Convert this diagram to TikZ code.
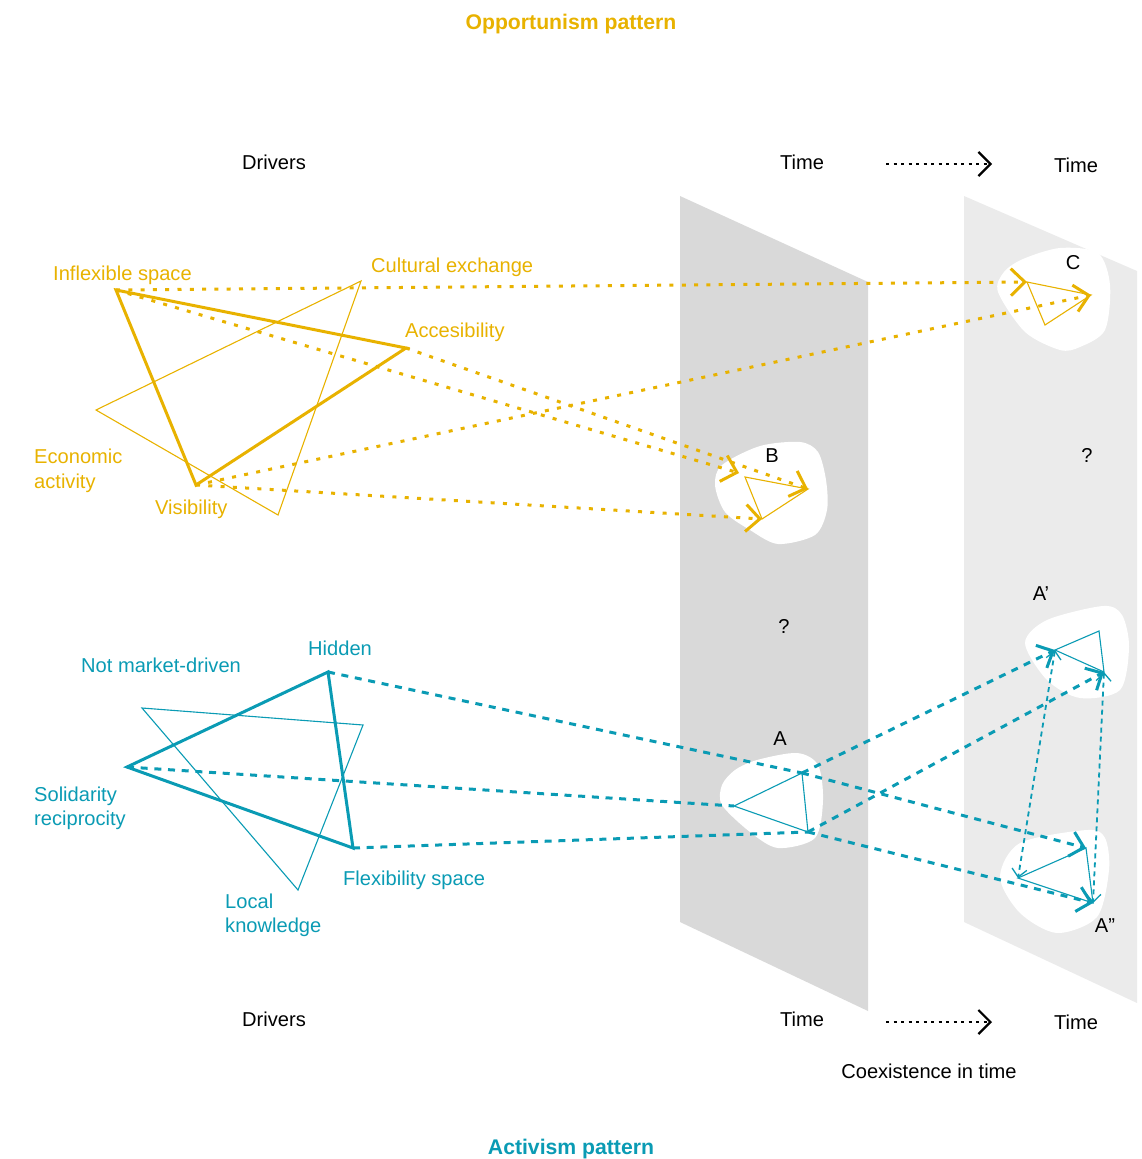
\documentclass[tikz,border=0pt]{standalone}
\usepackage{fontspec}
\setmainfont{Liberation Sans}
\usetikzlibrary{arrows.meta}
\definecolor{ylw}{RGB}{232,178,0}
\definecolor{tl}{RGB}{10,155,180}
\definecolor{planeA}{RGB}{217,217,217}
\definecolor{planeB}{RGB}{235,235,235}
\begin{document}
\begin{tikzpicture}[x=1pt,y=-1pt,
  lbl/.style={font=\fontsize{20.1}{24}\selectfont, inner sep=0pt},
  ttl/.style={font=\fontsize{21.2}{25}\selectfont\bfseries, inner sep=0pt, anchor=base},
  ythick/.style={draw=ylw, line width=3pt, line join=miter},
  ythin/.style={draw=ylw, line width=1.1pt},
  tthick/.style={draw=tl, line width=3pt, line join=miter},
  tthin/.style={draw=tl, line width=1.1pt},
  ydot/.style={draw=ylw, line width=3pt, dash pattern=on 4pt off 8.3pt},
  tdash/.style={draw=tl, line width=3pt, dash pattern=on 7pt off 6.7pt},
  tvdash/.style={draw=tl, line width=1.8pt, dash pattern=on 5pt off 4pt},
  timeln/.style={draw=black, line width=1.1pt, dash pattern=on 3pt off 4.5pt},
  ytip/.style={-{Straight Barb[length=14pt,width=27pt,line width=3pt]}},
  ttip/.style={-{Straight Barb[length=13pt,width=25pt,line width=3pt]}},
  tsmall/.style={{Straight Barb[length=8pt,width=15pt,line width=1.3pt]}-{Straight Barb[length=8pt,width=15pt,line width=1.3pt]}},
  ktip/.style={-{Straight Barb[length=12pt,width=24pt,line width=2.2pt]}},
  blob/.style={fill=white}
]
\useasboundingbox (0,0) rectangle (1141,1159);

% planes
\fill[planeA] (680,196) -- (868,282) -- (868,1011) -- (680,922) -- cycle;
\fill[planeB] (964,196) -- (1137,271) -- (1137,1003) -- (964,922) -- cycle;

% blobs
\fill[blob] plot[smooth cycle] coordinates {(760,446) (800,442) (818,452) (826,480) (827,510) (815,535) (778,544) (750,530) (725,512) (715,485) (722,465)};
\fill[blob] plot[smooth cycle] coordinates {(1023,259) (1060,248) (1098,253) (1110,285) (1105,330) (1080,347) (1060,350) (1025,332) (998,292) (1004,272)};
\fill[blob] plot[smooth cycle] coordinates {(757,760) (797,753) (818,765) (823,800) (815,838) (778,848) (750,832) (722,805) (722,785) (735,770)};
\fill[blob] plot[smooth cycle] coordinates {(1047,620) (1103,606) (1122,615) (1129,647) (1120,690) (1080,698) (1047,680) (1025,643)};
\fill[blob] plot[smooth cycle] coordinates {(1020,843) (1087,830) (1105,838) (1109,870) (1097,917) (1057,933) (1020,913) (1000,877)};

% vertices
\coordinate (yI) at (116,290);
\coordinate (yA) at (406,348);
\coordinate (yV) at (196,485);
\coordinate (yC) at (361,281);
\coordinate (yE) at (96,410);
\coordinate (yT) at (278,515);
\coordinate (B1) at (745,477);
\coordinate (B2) at (808,489);
\coordinate (B3) at (762,519);
\coordinate (Bt1) at (739,473);
\coordinate (C1) at (1027,282);
\coordinate (C2) at (1091,295);
\coordinate (C3) at (1045,325);
\coordinate (tH) at (328,672);
\coordinate (tS) at (127,767);
\coordinate (tF) at (353,848);
\coordinate (tN) at (142,708);
\coordinate (tX) at (363,725);
\coordinate (tL) at (298,890);
\coordinate (A1) at (734,806);
\coordinate (A2) at (802,773);
\coordinate (A3) at (808,832);
\coordinate (P1) at (1055,650);
\coordinate (P2) at (1099,631);
\coordinate (P3) at (1104,672);
\coordinate (Q1) at (1086,848);
\coordinate (Q2) at (1018,878);
\coordinate (Q3) at (1093,903);

% triangles
\draw[ythin] (yC) -- (yE) -- (yT) -- cycle;
\draw[ythick] (yI) -- (yA) -- (yV) -- cycle;
\draw[ythin] (B1) -- (B2) -- (B3) -- cycle;
\draw[ythin] (C1) -- (C2) -- (C3) -- cycle;
\draw[tthin] (tN) -- (tX) -- (tL) -- cycle;
\draw[tthick] (tH) -- (tS) -- (tF) -- cycle;
\draw[tthin] (A1) -- (A2) -- (A3) -- cycle;
\draw[tthin] (P1) -- (P2) -- (P3) -- cycle;
\draw[tthin] (Q1) -- (Q2) -- (Q3) -- cycle;

% yellow connectors
\draw[ydot, ytip] (yI) -- (C1);
\draw[ydot, ytip] (yI) -- (Bt1);
\draw[ydot, ytip] (yA) -- (B2);
\draw[ydot, ytip] (yV) -- (B3);
\draw[ydot, ytip] (yV) -- (C2);

% teal connectors
\draw[tdash] (tH) -- (A2);
\draw[tdash] (tS) -- (A1);
\draw[tdash] (tF) -- (A3);
\draw[tdash, ttip] (A2) -- (P1);
\draw[tdash, ttip] (A3) -- (P3);
\draw[tdash, ttip] (A2) -- (Q1);
\draw[tdash, ttip] (A3) -- (Q3);
\draw[tvdash, tsmall] (P1) -- (Q2);
\draw[tvdash, tsmall] (P3) -- (Q3);

% time arrows
\coordinate (ka1) at (886,164);
\coordinate (ka2) at (992,164);
\coordinate (kb1) at (886,1022);
\coordinate (kb2) at (992,1022);
\draw[timeln, ktip] (ka1) -- (ka2);
\draw[timeln, ktip] (kb1) -- (kb2);

% titles
\node[ttl, text=ylw] (tOpp) at (571,29.5) {Opportunism pattern};
\node[ttl, text=tl] (tAct) at (571,1154) {Activism pattern};

% black labels
\node[lbl, anchor=base] (drv1) at (274,169) {Drivers};
\node[lbl, anchor=base] (tim1) at (802,169) {Time};
\node[lbl, anchor=base] (tim2) at (1076,172) {Time};
\node[lbl, anchor=base] (drv2) at (274,1026) {Drivers};
\node[lbl, anchor=base] (tim3) at (802,1026) {Time};
\node[lbl, anchor=base] (tim4) at (1076,1029) {Time};
\node[lbl, anchor=base] (coex) at (929,1078) {Coexistence in time};
\node[lbl, anchor=base] (lB) at (772,462) {B};
\node[lbl, anchor=base] (lC) at (1073,269) {C};
\node[lbl, anchor=base] (q1) at (1087,462) {?};
\node[lbl, anchor=base] (q2) at (784,633) {?};
\node[lbl, anchor=base] (lA) at (780,745) {A};
\node[lbl, anchor=base] (lAp) at (1041,600) {A’};
\node[lbl, anchor=base] (lApp) at (1105,932) {A”};

% yellow labels
\node[lbl, text=ylw, anchor=base west] (lInf) at (53,280) {Inflexible space};
\node[lbl, text=ylw, anchor=base west] (lCul) at (371,272) {Cultural exchange};
\node[lbl, text=ylw, anchor=base west] (lAcc) at (405,337) {Accesibility};
\node[lbl, text=ylw, anchor=base west] (lEc1) at (34,463) {Economic};
\node[lbl, text=ylw, anchor=base west] (lEc2) at (34,488) {activity};
\node[lbl, text=ylw, anchor=base west] (lVis) at (155,514) {Visibility};

% teal labels
\node[lbl, text=tl, anchor=base west] (lNot) at (81,672) {Not market-driven};
\node[lbl, text=tl, anchor=base west] (lHid) at (308,655) {Hidden};
\node[lbl, text=tl, anchor=base west] (lSo1) at (34,801) {Solidarity};
\node[lbl, text=tl, anchor=base west] (lSo2) at (34,825) {reciprocity};
\node[lbl, text=tl, anchor=base west] (lFle) at (343,885) {Flexibility space};
\node[lbl, text=tl, anchor=base west] (lLo1) at (225,908) {Local};
\node[lbl, text=tl, anchor=base west] (lLo2) at (225,932) {knowledge};
\end{tikzpicture}
\end{document}
